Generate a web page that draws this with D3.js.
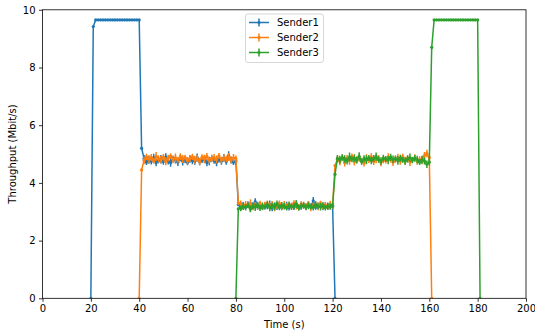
<!DOCTYPE html>
<html>
<head>
<meta charset="utf-8">
<script src="https://cdn.jsdelivr.net/npm/d3@7"></script>
<style>
  body { margin: 0; background: #fff; }
  svg { font-family: "DejaVu Sans", sans-serif; }
</style>
</head>
<body>
<svg id="chart" width="535" height="335"></svg>
<script>
// one sample per second, starting at each sender's start time
const seriesNames = ["Sender1", "Sender2", "Sender3"];
const seriesColors = ["#1f77b4", "#ff7f0e", "#2ca02c"];
const seriesStart = [20, 40, 80];

const sender1Values = [
  0, 9.42,
  9.65, 9.65, 9.65, 9.65, 9.65, 9.65, 9.65, 9.65, 9.65, 9.65, 9.65, 9.65, 9.65, 9.65, 9.65, 9.65, 9.65, 9.65, 9.65,
  5.2,
  4.85, 4.72, 4.80, 4.75, 4.88, 4.70, 4.78, 4.82, 4.74, 4.90, 4.76, 4.70, 4.84, 4.79, 4.72, 4.86, 4.75, 4.80, 4.71, 4.83,
  4.77, 4.74, 4.88, 4.73, 4.79, 4.82, 4.70, 4.76, 4.85, 4.78, 4.72, 4.81, 4.75, 4.87, 4.74, 4.95, 4.79, 4.72, 4.76,
  3.25,
  3.15, 3.22, 3.18, 3.25, 3.12, 3.20, 3.35, 3.17, 3.23, 3.14, 3.21, 3.19, 3.26, 3.13, 3.22, 3.18, 3.24, 3.16, 3.20, 3.23,
  3.15, 3.21, 3.18, 3.27, 3.14, 3.20, 3.22, 3.17, 3.25, 3.19, 3.38, 3.16, 3.21, 3.24, 3.15, 3.22, 3.18, 3.20, 3.19,
  0
];
const sender1Err = [
  0, 0.02,
  0.02, 0.02, 0.02, 0.02, 0.02, 0.02, 0.02, 0.02, 0.02, 0.02, 0.02, 0.02, 0.02, 0.02, 0.02, 0.02, 0.02, 0.02, 0.02,
  0.05,
  0.12, 0.10, 0.14, 0.11, 0.13, 0.12, 0.10, 0.15, 0.11, 0.13, 0.12, 0.14, 0.10, 0.12, 0.13, 0.11, 0.15, 0.12, 0.10, 0.13,
  0.12, 0.11, 0.14, 0.12, 0.10, 0.13, 0.12, 0.15, 0.11, 0.12, 0.14, 0.10, 0.12, 0.13, 0.11, 0.15, 0.12, 0.10, 0.12,
  0.06,
  0.10, 0.12, 0.09, 0.11, 0.10, 0.13, 0.12, 0.10, 0.11, 0.09, 0.12, 0.10, 0.13, 0.11, 0.10, 0.12, 0.09, 0.11, 0.10, 0.12,
  0.11, 0.10, 0.12, 0.13, 0.09, 0.11, 0.10, 0.12, 0.11, 0.10, 0.13, 0.09, 0.11, 0.12, 0.10, 0.11, 0.12, 0.10, 0.11,
  0
];

const sender2Values = [
  0, 4.45,
  4.78, 4.90, 4.82, 4.88, 4.76, 4.92, 4.84, 4.80, 4.89, 4.75, 4.86, 4.93, 4.81, 4.87, 4.79, 4.91, 4.83, 4.88, 4.77, 4.85,
  4.90, 4.80, 4.86, 4.74, 4.89, 4.83, 4.92, 4.78, 4.85, 4.88, 4.81, 4.94, 4.79, 4.86, 4.83, 4.90, 4.80, 4.87, 4.84,
  3.30,
  3.28, 3.18, 3.25, 3.21, 3.30, 3.16, 3.24, 3.20, 3.27, 3.15, 3.23, 3.29, 3.19, 3.26, 3.12, 3.22, 3.28, 3.17, 3.25, 3.20,
  3.24, 3.18, 3.30, 3.21, 3.16, 3.26, 3.23, 3.19, 3.27, 3.14, 3.22, 3.25, 3.18, 3.28, 3.20, 3.23, 3.17, 3.26, 3.21,
  4.60,
  4.82, 4.75, 4.88, 4.70, 4.85, 4.78, 4.92, 4.73, 4.80, 4.87, 4.76, 4.69, 4.84, 4.79, 4.90, 4.74, 4.82, 4.86, 4.71, 4.80,
  4.77, 4.89, 4.83, 4.72, 4.81, 4.86, 4.75, 4.91, 4.78, 4.84, 4.73, 4.80, 4.87, 4.76, 4.82, 4.79, 4.95, 5.02, 4.88,
  0
];
const sender2Err = [
  0, 0.05,
  0.13, 0.11, 0.14, 0.12, 0.10, 0.15, 0.12, 0.13, 0.11, 0.14, 0.12, 0.10, 0.13, 0.15, 0.11, 0.12, 0.14, 0.10, 0.13, 0.12,
  0.11, 0.14, 0.12, 0.13, 0.10, 0.15, 0.12, 0.11, 0.13, 0.12, 0.14, 0.10, 0.12, 0.13, 0.11, 0.14, 0.12, 0.13, 0.11,
  0.06,
  0.11, 0.10, 0.12, 0.09, 0.13, 0.11, 0.10, 0.12, 0.11, 0.09, 0.12, 0.10, 0.13, 0.11, 0.10, 0.12, 0.11, 0.10, 0.12, 0.09,
  0.11, 0.12, 0.10, 0.13, 0.11, 0.10, 0.12, 0.11, 0.09, 0.12, 0.10, 0.11, 0.13, 0.10, 0.12, 0.11, 0.10, 0.12, 0.11,
  0.05,
  0.12, 0.14, 0.11, 0.13, 0.12, 0.15, 0.10, 0.13, 0.12, 0.14, 0.11, 0.12, 0.15, 0.10, 0.13, 0.12, 0.14, 0.11, 0.13, 0.12,
  0.10, 0.14, 0.12, 0.13, 0.11, 0.15, 0.12, 0.10, 0.13, 0.12, 0.14, 0.11, 0.12, 0.13, 0.10, 0.14, 0.12, 0.13, 0.11,
  0
];

const sender3Values = [
  0, 3.10,
  3.12, 3.18, 3.15, 3.22, 3.10, 3.19, 3.16, 3.24, 3.13, 3.20, 3.17, 3.25, 3.14, 3.21, 3.18, 3.28, 3.15, 3.22, 3.19, 3.13,
  3.23, 3.17, 3.20, 3.26, 3.14, 3.19, 3.22, 3.16, 3.21, 3.18, 3.15, 3.24, 3.19, 3.17, 3.22, 3.14, 3.20, 3.18, 3.22,
  4.30,
  4.85, 4.80, 4.88, 4.83, 4.76, 4.90, 4.82, 4.86, 4.79, 4.92, 4.74, 4.84, 4.80, 4.87, 4.78, 4.85, 4.91, 4.81, 4.76, 4.86,
  4.83, 4.79, 4.89, 4.82, 4.84, 4.78, 4.86, 4.80, 4.75, 4.83, 4.88, 4.79, 4.85, 4.81, 4.72, 4.80, 4.76, 4.65, 4.72,
  8.70,
  9.65, 9.65, 9.65, 9.65, 9.65, 9.65, 9.65, 9.65, 9.65, 9.65, 9.65, 9.65, 9.65, 9.65, 9.65, 9.65, 9.65, 9.65, 9.65,
  0
];
const sender3Err = [
  0, 0.05,
  0.10, 0.12, 0.11, 0.09, 0.12, 0.10, 0.13, 0.11, 0.10, 0.12, 0.09, 0.11, 0.12, 0.10, 0.13, 0.11, 0.10, 0.12, 0.11, 0.09,
  0.12, 0.10, 0.11, 0.13, 0.10, 0.12, 0.11, 0.09, 0.12, 0.10, 0.11, 0.12, 0.10, 0.13, 0.11, 0.10, 0.12, 0.11, 0.10,
  0.06,
  0.12, 0.14, 0.11, 0.13, 0.12, 0.15, 0.10, 0.13, 0.12, 0.14, 0.11, 0.12, 0.15, 0.10, 0.13, 0.12, 0.14, 0.11, 0.13, 0.12,
  0.10, 0.14, 0.12, 0.13, 0.11, 0.15, 0.12, 0.10, 0.13, 0.12, 0.14, 0.11, 0.12, 0.13, 0.10, 0.14, 0.12, 0.13, 0.11,
  0.05,
  0.02, 0.02, 0.02, 0.02, 0.02, 0.02, 0.02, 0.02, 0.02, 0.02, 0.02, 0.02, 0.02, 0.02, 0.02, 0.02, 0.02, 0.02, 0.02,
  0
];

const xTicks = [0, 20, 40, 60, 80, 100, 120, 140, 160, 180, 200];
const yTicks = [0, 2, 4, 6, 8, 10];

const allValues = [sender1Values, sender2Values, sender3Values];
const allErr = [sender1Err, sender2Err, sender3Err];

var width = 535, height = 335;
var margin = {top: 9.8, right: 9, bottom: 36.7, left: 42.5};

var svg = d3.select("#chart");

var xScale = d3.scaleLinear()
  .domain([0, 200])
  .range([margin.left, width - margin.right]);
var yScale = d3.scaleLinear()
  .domain([0, 10])
  .range([height - margin.bottom, margin.top]);

// build the point lists
var graphData = seriesNames.map(function(name, s) {
  return {
    name: name,
    color: seriesColors[s],
    points: allValues[s].map(function(v, i) {
      return {t: seriesStart[s] + i, v: v, e: allErr[s][i]};
    })
  };
});

var clip = svg.append("defs").append("clipPath").attr("id", "plot-clip")
  .append("rect")
  .attr("x", margin.left)
  .attr("y", margin.top)
  .attr("width", width - margin.left - margin.right)
  .attr("height", height - margin.top - margin.bottom);

var gPlot = svg.append("g").attr("clip-path", "url(#plot-clip)");

var line = d3.line()
  .x(d => xScale(d.t))
  .y(d => yScale(d.v));

graphData.forEach(function(series) {
  var g = gPlot.append("g").classed("series", true);

  g.append("path")
    .datum(series.points)
    .attr("d", line)
    .style("fill", "none")
    .style("stroke", series.color)
    .style("stroke-width", 1.5)
    .style("stroke-linejoin", "round");

  g.selectAll(".err-bar").data(series.points)
    .enter()
    .append("line")
    .classed("err-bar", true)
    .attr("x1", d => xScale(d.t))
    .attr("x2", d => xScale(d.t))
    .attr("y1", d => yScale(d.v - d.e))
    .attr("y2", d => yScale(d.v + d.e))
    .style("stroke", series.color)
    .style("stroke-width", 1.5);

  g.selectAll(".marker").data(series.points)
    .enter()
    .append("circle")
    .classed("marker", true)
    .attr("cx", d => xScale(d.t))
    .attr("cy", d => yScale(d.v))
    .attr("r", 1.6)
    .style("fill", series.color);
});

// axes
var xAxis = svg.append("g")
  .attr("transform", "translate(0," + (height - margin.bottom) + ")")
  .call(d3.axisBottom(xScale).tickValues(xTicks).tickFormat(d3.format("d")).tickSizeInner(3.5).tickSizeOuter(0).tickPadding(3.5));
var yAxis = svg.append("g")
  .attr("transform", "translate(" + margin.left + ",0)")
  .call(d3.axisLeft(yScale).tickValues(yTicks).tickFormat(d3.format("d")).tickSizeInner(3.5).tickSizeOuter(0).tickPadding(3.5));

[xAxis, yAxis].forEach(function(ax) {
  ax.select(".domain").remove();
  ax.selectAll(".tick line").style("stroke", "#000").style("stroke-width", 0.8);
  ax.selectAll(".tick text").style("font-size", "10px").style("fill", "#000")
    .style("font-family", "DejaVu Sans, sans-serif");
});

// frame
svg.append("rect")
  .attr("x", margin.left)
  .attr("y", margin.top)
  .attr("width", width - margin.left - margin.right)
  .attr("height", height - margin.top - margin.bottom)
  .style("fill", "none")
  .style("stroke", "#000")
  .style("stroke-width", 0.8);

// axis labels
svg.append("text")
  .text("Time (s)")
  .attr("x", (margin.left + width - margin.right) / 2)
  .attr("y", 328)
  .style("font-size", "10px")
  .style("text-anchor", "middle");

svg.append("text")
  .text("Throughput (Mbit/s)")
  .attr("transform", "translate(16," + ((margin.top + height - margin.bottom) / 2) + ") rotate(-90)")
  .style("font-size", "10px")
  .style("text-anchor", "middle");

// legend
var legend = svg.append("g").attr("transform", "translate(245.5,14)");
legend.append("rect")
  .attr("width", 78)
  .attr("height", 48.5)
  .attr("rx", 2.5)
  .style("fill", "#fff")
  .style("fill-opacity", 0.8)
  .style("stroke", "#ccc")
  .style("stroke-width", 0.8);

var items = legend.selectAll(".legend-item").data(graphData)
  .enter()
  .append("g")
  .classed("legend-item", true)
  .attr("transform", (d, i) => "translate(0," + (8.5 + i * 15) + ")");

items.append("line")
  .attr("x1", 3.5).attr("x2", 23.5).attr("y1", 0).attr("y2", 0)
  .style("stroke", d => d.color).style("stroke-width", 1.5);
items.append("line")
  .attr("x1", 13.5).attr("x2", 13.5).attr("y1", -4).attr("y2", 4)
  .style("stroke", d => d.color).style("stroke-width", 1.5);
items.append("circle")
  .attr("cx", 13.5).attr("cy", 0).attr("r", 1.6)
  .style("fill", d => d.color);
items.append("text")
  .text(d => d.name)
  .attr("x", 31.5)
  .attr("y", 3.6)
  .style("font-size", "10px");
</script>
</body>
</html>
